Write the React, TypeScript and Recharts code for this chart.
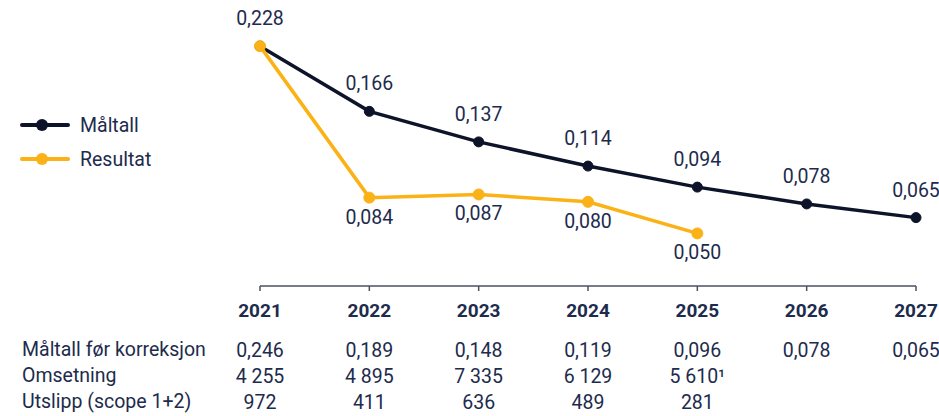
import { LineChart, Line, XAxis, YAxis, LabelList } from 'recharts';

const years = ['2021', '2022', '2023', '2024', '2025', '2026', '2027'];
const maltall = [0.228, 0.166, 0.137, 0.114, 0.094, 0.078, 0.065];
const resultat = [0.228, 0.084, 0.087, 0.08, 0.05, null, null];

const rowLabels = ['Måltall før korreksjon', 'Omsetning', 'Utslipp (scope 1+2)'];
const maltallForKorreksjon = ['0,246', '0,189', '0,148', '0,119', '0,096', '0,078', '0,065'];
const omsetning = ['4 255', '4 895', '7 335', '6 129', '5 610¹', '', ''];
const utslipp = ['972', '411', '636', '489', '281', '', ''];

const NAVY = '#0d1329';
const YELLOW = '#fbb216';
const TEXT = '#1d2b4c';
const FONT = 'Roboto, "Noto Sans", sans-serif';

const data = years.map((year, i) => ({
  year,
  maltall: maltall[i],
  resultat: resultat[i],
}));

const formatNum = (v: unknown) =>
  typeof v === 'number' ? v.toFixed(3).replace('.', ',') : '';

const TableTick = ({ x, y, payload }: any) => {
  const i = payload.index;
  const rows = [maltallForKorreksjon[i], omsetning[i], utslipp[i]];
  return (
    <g transform={`translate(${x},${y})`} fontFamily={FONT}>
      <text y={24} textAnchor="middle" fontWeight={700} fontSize={19} fill={TEXT}>
        {payload.value}
      </text>
      {rows.map((r, k) => (
        <text key={k} y={64 + k * 26} textAnchor="middle" fontSize={19.5} fill={TEXT}>
          {r}
        </text>
      ))}
    </g>
  );
};

const LegendItem = ({ color, label }: { color: string; label: string }) => (
  <div style={{ display: 'flex', alignItems: 'center', height: 34 }}>
    <svg width={50} height={14} style={{ marginRight: 10 }}>
      <line x1={2} y1={7} x2={48} y2={7} stroke={color} strokeWidth={4} strokeLinecap="round" />
      <circle cx={22} cy={7} r={6} fill={color} />
    </svg>
    <span style={{ fontSize: 19.5, color: TEXT }}>{label}</span>
  </div>
);

export default function App() {
  return (
    <div style={{ position: 'absolute', left: 0, top: 0, width: 939, height: 416, fontFamily: FONT }}>
      <LineChart width={939} height={416} data={data} margin={{ top: 23, right: 23, left: 260, bottom: 0 }}>
        <XAxis
          dataKey="year"
          scale="point"
          interval={0}
          height={130}
          tickSize={5}
          axisLine={{ stroke: '#4b5160', strokeWidth: 1.5 }}
          tickLine={{ stroke: '#4b5160', strokeWidth: 1.5 }}
          tick={<TableTick />}
        />
        <YAxis hide domain={[0, 0.25]} />
        <Line
          dataKey="maltall"
          stroke={NAVY}
          strokeWidth={3.5}
          dot={{ r: 5, fill: NAVY, stroke: NAVY, strokeWidth: 1 }}
          isAnimationActive={false}
        >
          <LabelList
            dataKey="maltall"
            position="top"
            offset={21}
            formatter={formatNum}
            style={{ fontSize: 19.5, fill: TEXT, fontFamily: FONT }}
          />
        </Line>
        <Line
          dataKey="resultat"
          stroke={YELLOW}
          strokeWidth={3.5}
          dot={{ r: 5.5, fill: YELLOW, stroke: YELLOW, strokeWidth: 1 }}
          isAnimationActive={false}
        >
          <LabelList
            dataKey="resultat"
            content={(p: any) =>
              p.index === 0 || p.value == null ? null : (
                <text
                  x={p.x}
                  y={p.y + 26}
                  textAnchor="middle"
                  fontSize={19.5}
                  fill={TEXT}
                  fontFamily={FONT}
                >
                  {formatNum(p.value)}
                </text>
              )
            }
          />
        </Line>
      </LineChart>
      <div style={{ position: 'absolute', left: 20, top: 108 }}>
        <LegendItem color={NAVY} label="Måltall" />
        <LegendItem color={YELLOW} label="Resultat" />
      </div>
      <div style={{ position: 'absolute', left: 22, top: 337, fontSize: 19.5, color: TEXT, lineHeight: '26px' }}>
        {rowLabels.map((l) => (
          <div key={l}>{l}</div>
        ))}
      </div>
    </div>
  );
}
